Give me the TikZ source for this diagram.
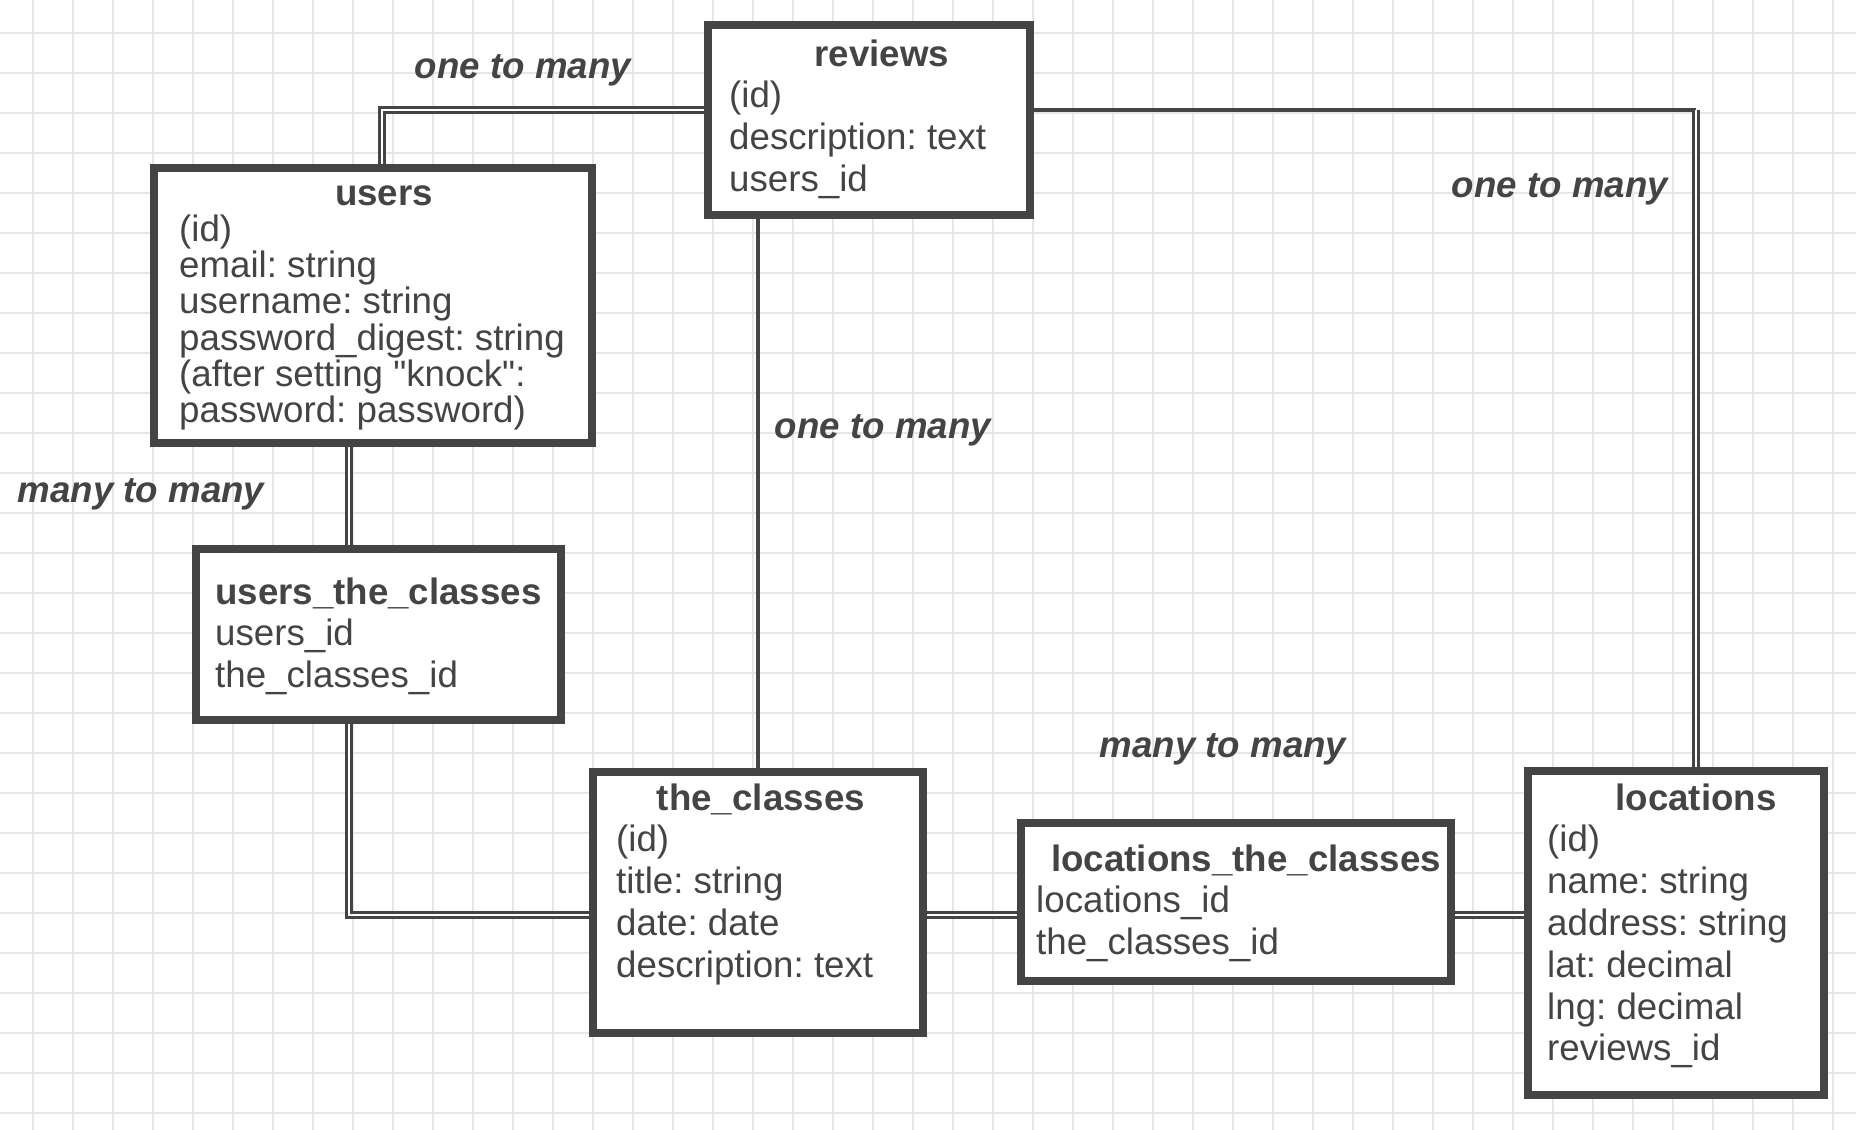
\documentclass[tikz,border=0pt]{standalone}
\usepackage{fontspec}
\setmainfont{Liberation Sans}[Ligatures=TeXOff]
\usepackage{xcolor}
\usepackage{tikz}
\usetikzlibrary{calc}
\definecolor{ink}{HTML}{444444}
\definecolor{gridgray}{HTML}{E6E6E6}
\frenchspacing

\begin{document}
\begin{tikzpicture}[x=1pt,y=-1pt,
	entity/.style={draw=ink,fill=white,line width=7.5pt,rectangle,inner sep=0pt},
	attr/.style={text=ink,font=\fontsize{36.7}{42}\selectfont,inner sep=0pt,anchor=base west},
	tabletitle/.style={attr,font=\fontsize{36.7}{42}\selectfont\bfseries},
	relation/.style={text=ink,font=\fontsize{36.7}{42}\selectfont\bfseries\itshape,inner sep=0pt,anchor=base},
	gridline/.style={draw=gridgray,line width=2.2pt},
	oneline/.style={draw=ink,line width=4.5pt},
	twoline/.style={draw=ink,line width=2.5pt,double=white,double distance=2.5pt}]
	\fill[white] (0,0) rectangle (1856,1130);
	\useasboundingbox (0,0) rectangle (1856,1130);
	\foreach \g in {33,73,...,1833} \draw[gridline] (\g,0) -- (\g,1130);
	\foreach \g in {33,73,...,1113} \draw[gridline] (0,\g) -- (1856,\g);
	\node[entity,minimum width=322pt,minimum height=190pt] (reviews) at (869,120) {};
	\node[entity,minimum width=438pt,minimum height=275pt] (users) at (373,305.5) {};
	\node[entity,minimum width=365pt,minimum height=171pt] (usersclasses) at (378.5,634.5) {};
	\node[entity,minimum width=330pt,minimum height=261pt] (classes) at (758,902.5) {};
	\node[entity,minimum width=430pt,minimum height=158pt] (locclasses) at (1236,902) {};
	\node[entity,minimum width=296pt,minimum height=324pt] (locations) at (1676,933) {};
	\node[tabletitle,anchor=base] (reviews-title) at (882,66) {reviews};
	\foreach \txt [count=\i] in {{(id)},{description: text},{users\_id}}
		\node[attr] (reviews-\i) at (729,66+41.8*\i) {\txt};
	\node[tabletitle,anchor=base] (users-title) at (384,205) {users};
	\foreach \txt [count=\i] in {{(id)},{email: string},{username: string},{password\_digest: string},{(after setting "knock":},{password: password)}}
		\node[attr] (users-\i) at (179,205+36.3*\i) {\txt};
	\node[tabletitle] (usersclasses-title) at (215,604) {users\_the\_classes};
	\foreach \txt [count=\i] in {{users\_id},{the\_classes\_id}}
		\node[attr] (usersclasses-\i) at (215,604+41.8*\i) {\txt};
	\node[tabletitle,anchor=base] (classes-title) at (761,810) {the\_classes};
	\foreach \txt [count=\i] in {{(id)},{title: string},{date: date},{description: text}}
		\node[attr] (classes-\i) at (616,810+41.8*\i) {\txt};
	\node[tabletitle] (locclasses-title) at (1051,871) {locations\_the\_classes};
	\foreach \txt [count=\i] in {{locations\_id},{the\_classes\_id}}
		\node[attr] (locclasses-\i) at (1036,871+41.8*\i) {\txt};
	\node[tabletitle,anchor=base] (locations-title) at (1696,810) {locations};
	\foreach \txt [count=\i] in {{(id)},{name: string},{address: string},{lat: decimal},{lng: decimal},{reviews\_id}}
		\node[attr] (locations-\i) at (1547,810+41.8*\i) {\txt};
	\coordinate (revout) at ([yshift=10pt]reviews.west);
	\coordinate (revright) at ([yshift=10pt]reviews.east);
	\coordinate (usersdrop) at ([xshift=9pt]users.north);
	\coordinate (ulane) at ([xshift=-24pt]users.south);
	\coordinate (lane) at ([yshift=-12.5pt]classes.west);
	\coordinate (locdrop) at ([xshift=20pt]locations.north);
	\draw[twoline] (revout) -| (usersdrop);
	\draw[oneline] (reviews.south -| classes.north) -- (classes.north);
	\draw[oneline] (revright) -- (revright -| locdrop);
	\draw[twoline] (revright -| locdrop) -- (locdrop);
	\draw[twoline] (ulane) -- (ulane |- usersclasses.north);
	\draw[twoline] (ulane |- usersclasses.south) |- (lane);
	\draw[twoline] (lane -| classes.east) -- (lane -| locclasses.west);
	\draw[twoline] (lane -| locclasses.east) -- (lane -| locations.west);
	\node[relation] (rel-reviews-users) at (523,78) {one to many};
	\node[relation] (rel-reviews-locations) at (1560,197) {one to many};
	\node[relation] (rel-users-classes) at (141,502) {many to many};
	\node[relation] (rel-reviews-classes) at (883,438) {one to many};
	\node[relation] (rel-locations-classes) at (1223,757) {many to many};
\end{tikzpicture}
\end{document}
